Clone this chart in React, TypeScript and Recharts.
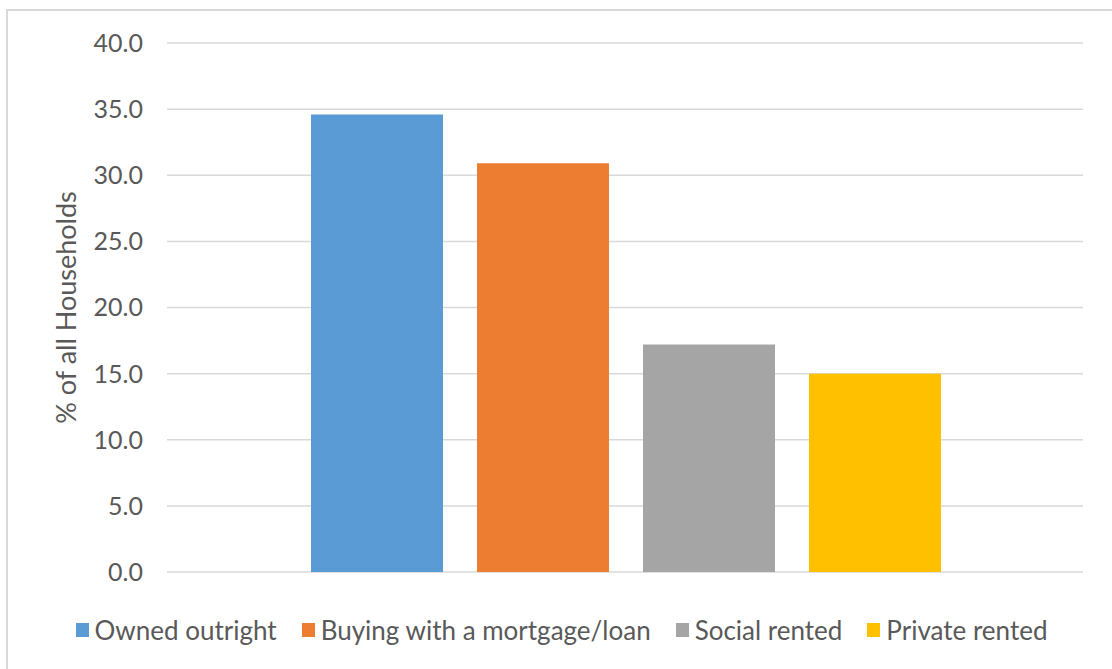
import React from "react";
import { BarChart, Bar, XAxis, YAxis, CartesianGrid, Legend } from "recharts";

const CATEGORY = "Tenure";
const SERIES_NAMES = ["Owned outright", "Buying with a mortgage/loan", "Social rented", "Private rented"];
const SERIES_VALUES = [34.6, 30.9, 17.2, 15.0];
const SERIES_COLORS = ["#5b9bd5", "#ed7d31", "#a5a5a5", "#ffc000"];
const Y_TICKS = [0, 5, 10, 15, 20, 25, 30, 35, 40];

const FONT = "Lato, 'Open Sans', sans-serif";
const TEXT = "#595959";

const row: Record<string, string | number> = { name: CATEGORY };
SERIES_NAMES.forEach((n, i) => {
  row[`s${i}`] = SERIES_VALUES[i];
});
const data = [row];

const LegendContent = () => (
  <div
    style={{
      display: "flex",
      justifyContent: "center",
      alignItems: "center",
      gap: 25,
      fontFamily: FONT,
      fontSize: 26,
      color: TEXT,
      width: 1112,
      paddingLeft: 11,
      boxSizing: "border-box",
    }}
  >
    {SERIES_NAMES.map((n, i) => (
      <span key={n} style={{ display: "flex", alignItems: "center", gap: 6 }}>
        <span style={{ display: "inline-block", width: 13, height: 14, background: SERIES_COLORS[i] }} />
        {n}
      </span>
    ))}
  </div>
);

const YLabel = (props: any) => {
  const vb = props.viewBox || { y: 43, height: 528 };
  const cy = vb.y + vb.height / 2;
  return (
    <text
      x={65}
      y={cy}
      transform={`rotate(-90, 65, ${cy})`}
      textAnchor="middle"
      dominantBaseline="central"
      fill={TEXT}
      fontFamily={FONT}
      fontSize={27}
    >
      % of all Households
    </text>
  );
};

export default function App() {
  return (
    <div style={{ position: "fixed", left: 0, top: 0, width: 1112, height: 669, background: "#fff", overflow: "hidden" }}>
      <div
        style={{
          position: "absolute",
          left: 6,
          top: 9,
          width: 1200,
          height: 800,
          borderTop: "2px solid #d9d9d9",
          borderLeft: "2px solid #d9d9d9",
        }}
      />
      <div style={{ position: "absolute", left: 0, top: 0 }}>
        <BarChart
          width={1112}
          height={669}
          data={data}
          margin={{ top: 43, right: 29, bottom: 97, left: 0 }}
          barCategoryGap={144}
          barGap={34}
        >
          <CartesianGrid vertical={false} stroke="#d9d9d9" strokeWidth={1.5} />
          <XAxis dataKey="name" hide />
          <YAxis
            width={167}
            domain={[0, 40]}
            ticks={Y_TICKS}
            interval={0}
            tickFormatter={(v: number) => v.toFixed(1)}
            axisLine={false}
            tickLine={false}
            tickSize={0}
            tickMargin={24}
            tick={{ fill: TEXT, fontSize: 25, fontFamily: FONT }}
            label={{ content: YLabel }}
          />
          <Legend
            layout="horizontal"
            verticalAlign="middle"
            align="center"
            content={<LegendContent />}
            wrapperStyle={{ top: 614, left: 0, width: 1112 }}
          />
          {SERIES_NAMES.map((n, i) => (
            <Bar key={n} dataKey={`s${i}`} name={n} fill={SERIES_COLORS[i]} isAnimationActive={false} />
          ))}
        </BarChart>
      </div>
    </div>
  );
}
